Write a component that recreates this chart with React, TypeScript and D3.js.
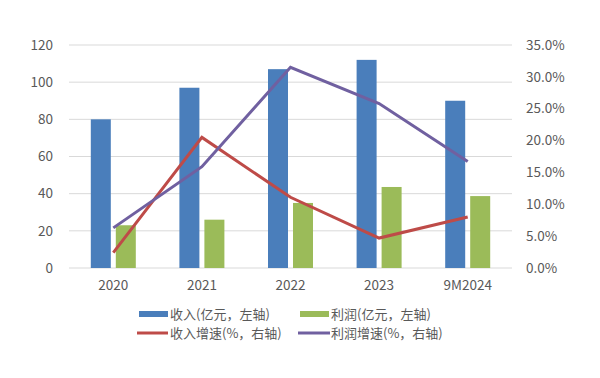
import React from "react";
import * as d3 from "d3";

const categories = ["2020", "2021", "2022", "2023", "9M2024"];
const revenue = [80, 97, 107, 112, 90];
const profit = [23, 26, 35, 43.6, 38.7];
const revenueGrowth = [2.4, 20.5, 11.1, 4.7, 8.0];
const profitGrowth = [6.3, 15.9, 31.5, 25.8, 16.7];
const leftTicks = [0, 20, 40, 60, 80, 100, 120];
const rightTicks = [0, 5, 10, 15, 20, 25, 30, 35];
const legendLabels = ["收入(亿元，左轴)", "利润(亿元，左轴)", "收入增速(%，右轴)", "利润增速(%，右轴)"];

const colors = { blue: "#4a7ebb", green: "#9bbb59", red: "#be4b48", purple: "#7060a0" };

export default function App() {
  const W = 600, H = 378;
  const left = 69, right = 512, top = 45, bottom = 268;
  const x = d3.scaleBand().domain(categories).range([left, right]);
  const yL = d3.scaleLinear().domain([0, 120]).range([bottom, top]);
  const yR = d3.scaleLinear().domain([0, 35]).range([bottom, top]);
  const bw = 20, gap = 5;
  const cx = (c: string) => (x(c) as number) + x.bandwidth() / 2;
  const line = (vals: number[]) =>
    d3.line<number>().x((_, i) => cx(categories[i])).y((v) => yR(v))(vals) as string;
  const font = "'Microsoft YaHei', 'Noto Sans CJK SC', 'DejaVu Sans', sans-serif";
  const tc = "#595959";
  return (
    <svg width={W} height={H} style={{ position: "absolute", left: 0, top: 0, background: "#fff" }} fontFamily={font}>
      {leftTicks.map((t) => (
        <g key={t}>
          <line x1={left} x2={right} y1={yL(t)} y2={yL(t)} stroke="#d9d9d9" strokeWidth={1} />
          <text x={53} y={yL(t)} dy="0.35em" textAnchor="end" fontSize={13.5} fill={tc}>{t}</text>
        </g>
      ))}
      {rightTicks.map((t) => (
        <text key={t} x={526} y={yR(t)} dy="0.35em" textAnchor="start" fontSize={13.5} fill={tc}>{t.toFixed(1)}%</text>
      ))}
      {categories.map((c, i) => (
        <g key={c}>
          <rect x={cx(c) - gap / 2 - bw} y={yL(revenue[i])} width={bw} height={bottom - yL(revenue[i])} fill={colors.blue} />
          <rect x={cx(c) + gap / 2} y={yL(profit[i])} width={bw} height={bottom - yL(profit[i])} fill={colors.green} />
          <text x={cx(c)} y={285} dy="0.35em" textAnchor="middle" fontSize={13.5} fill={tc}>{c}</text>
        </g>
      ))}
      <path d={line(revenueGrowth)} fill="none" stroke={colors.red} strokeWidth={3} />
      <path d={line(profitGrowth)} fill="none" stroke={colors.purple} strokeWidth={3} />
      <g fontSize={13} fill={tc}>
        <rect x={139} y={311} width={29} height={6} fill={colors.blue} />
        <text x={170} y={314} dy="0.35em">{legendLabels[0]}</text>
        <rect x={300} y={311} width={29} height={6} fill={colors.green} />
        <text x={331} y={314} dy="0.35em">{legendLabels[1]}</text>
        <line x1={137} x2={168} y1={333} y2={333} stroke={colors.red} strokeWidth={3} />
        <text x={170} y={333} dy="0.35em">{legendLabels[2]}</text>
        <line x1={298} x2={330} y1={333} y2={333} stroke={colors.purple} strokeWidth={3} />
        <text x={331} y={333} dy="0.35em">{legendLabels[3]}</text>
      </g>
    </svg>
  );
}
